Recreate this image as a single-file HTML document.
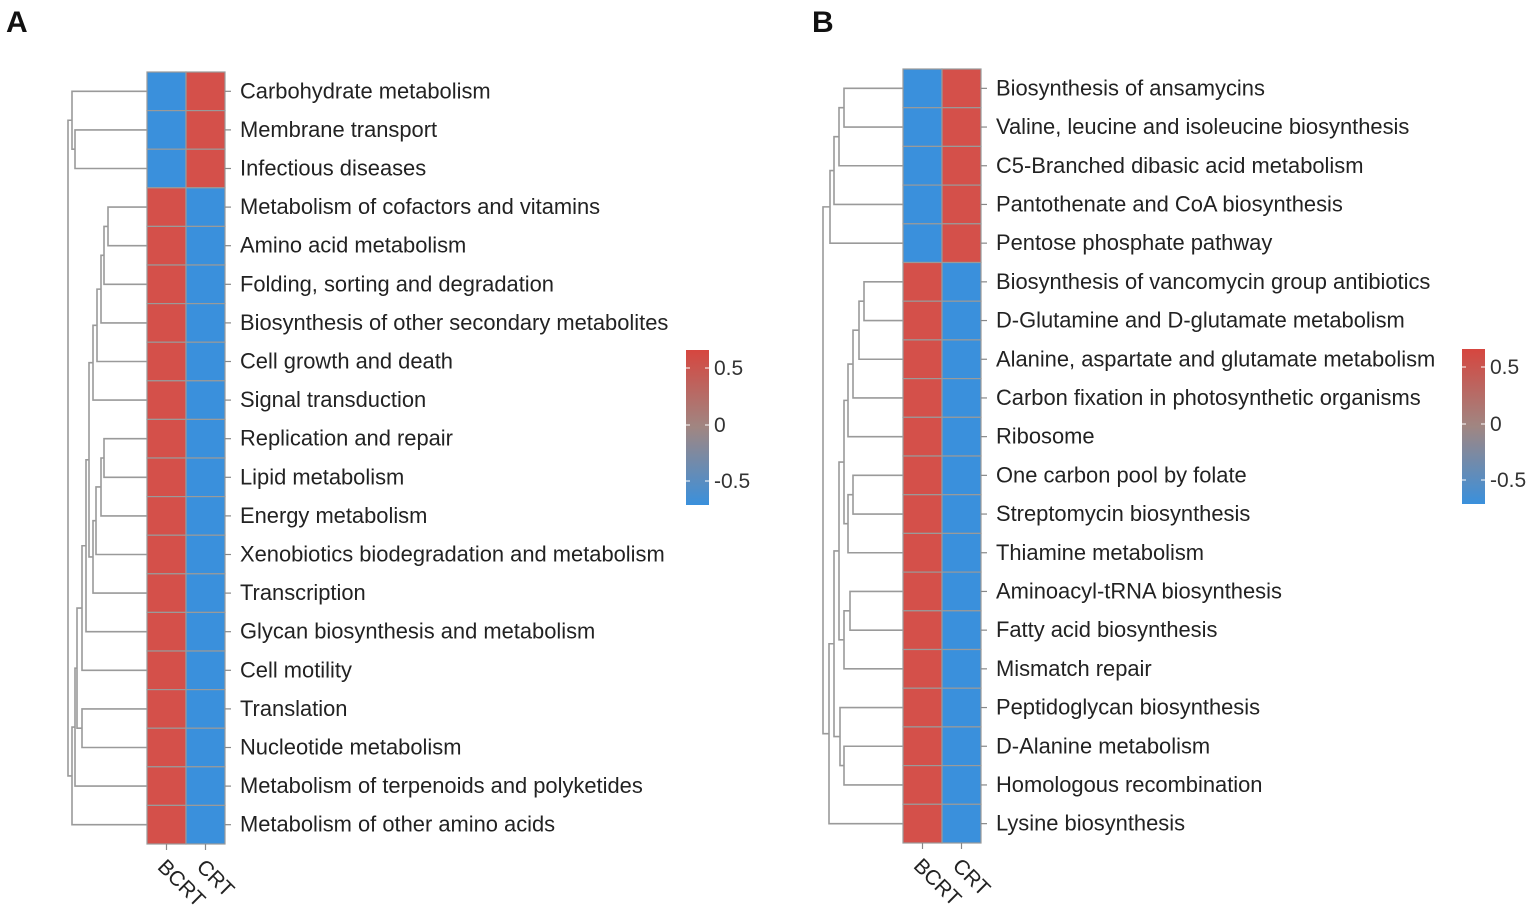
<!DOCTYPE html>
<html><head><meta charset="utf-8"><style>
html,body{margin:0;padding:0;background:#fff;}
svg{display:block;font-family:"Liberation Sans",Arial,sans-serif;}
</style></head><body>
<svg id="s" width="1535" height="922" xmlns="http://www.w3.org/2000/svg">
<defs><linearGradient id="g" x1="0" y1="0" x2="0" y2="1">
<stop offset="0" stop-color="#D6463F"/><stop offset="0.5" stop-color="#A08682"/><stop offset="1" stop-color="#3A90DC"/></linearGradient></defs>
<text x="6" y="32" font-size="30" font-weight="bold" fill="#111">A</text>
<text x="812" y="32" font-size="30" font-weight="bold" fill="#111">B</text>
</svg>
<script>
const S=document.getElementById('s');const NS='http://www.w3.org/2000/svg';
function el(t,a,txt){const e=document.createElementNS(NS,t);for(const k in a)e.setAttribute(k,a[k]);if(txt!==undefined)e.textContent=txt;S.appendChild(e);return e;}
function panel(o){
 const n=o.labels.length, rh=(o.bot-o.top)/n, cw=(o.x1-o.x0)/2;
 const yc=i=>o.top+rh*(i+0.5);
 for(let i=0;i<n;i++){
  const red=i>=o.split;
  el('rect',{x:o.x0,y:o.top+rh*i,width:cw,height:rh,fill:red?'#D4504A':'#3A90DC',stroke:'#9a9a9a','stroke-width':1.2});
  el('rect',{x:o.x0+cw,y:o.top+rh*i,width:cw,height:rh,fill:red?'#3A90DC':'#D4504A',stroke:'#9a9a9a','stroke-width':1.2});
  el('line',{x1:o.x1,x2:o.x1+6,y1:yc(i),y2:yc(i),stroke:'#888','stroke-width':1.2});
  el('text',{x:o.x1+15,y:yc(i)+7,'font-size':21.9,fill:'#222'},o.labels[i]);
 }
 [['BCRT',o.x0+cw/2],['CRT',o.x0+cw*1.5]].forEach(([t,x])=>{
  el('line',{x1:x,x2:x,y1:o.bot,y2:o.bot+6,stroke:'#888','stroke-width':1.2});
  el('text',{x:x-10,y:o.bot+24,'font-size':21,fill:'#222',transform:`rotate(45 ${x-10} ${o.bot+24})`},t);
 });
 const pos={};for(let i=0;i<n;i++)pos[i]={x:o.x0,y:yc(i)};
 let id=n;
 o.merges.forEach(([a,b,h])=>{
  const A=pos[a],B=pos[b];
  el('polyline',{points:`${A.x},${A.y} ${h},${A.y} ${h},${B.y} ${B.x},${B.y}`,fill:'none',stroke:'#9a9a9a','stroke-width':1.6});
  pos[id]={x:h,y:(A.y+B.y)/2};id++;
 });
 const L=o.leg;
 el('rect',{x:L.x,y:L.y,width:23,height:155,fill:'url(#g)'});
 [['0.5',18],['0',75],['-0.5',131]].forEach(([t,d])=>{
  el('line',{x1:L.x,x2:L.x+4,y1:L.y+d,y2:L.y+d,stroke:'#fff','stroke-width':1});
  el('line',{x1:L.x+19,x2:L.x+23,y1:L.y+d,y2:L.y+d,stroke:'#fff','stroke-width':1});
  el('text',{x:L.x+28,y:L.y+d+7,'font-size':21,fill:'#333'},t);
 });
}
panel({x0:147,x1:225,top:72,bot:844,split:3,leg:{x:686,y:350},
labels:["Carbohydrate metabolism","Membrane transport","Infectious diseases","Metabolism of cofactors and vitamins","Amino acid metabolism","Folding, sorting and degradation","Biosynthesis of other secondary metabolites","Cell growth and death","Signal transduction","Replication and repair","Lipid metabolism","Energy metabolism","Xenobiotics biodegradation and metabolism","Transcription","Glycan biosynthesis and metabolism","Cell motility","Translation","Nucleotide metabolism","Metabolism of terpenoids and polyketides","Metabolism of other amino acids"],
merges:[[1,2,75],[0,20,72],
[3,4,108],[22,5,104],[23,6,101],[24,7,97],[25,8,93],
[9,10,104],[27,11,101],[28,12,96],[29,13,93],
[26,30,89],[31,14,86],[32,15,82],
[16,17,82],[33,34,77],[35,18,75],[36,19,72],
[21,37,68]]});
panel({x0:903,x1:981,top:69,bot:843,split:5,leg:{x:1462,y:349},
labels:["Biosynthesis of ansamycins","Valine, leucine and isoleucine biosynthesis","C5-Branched dibasic acid metabolism","Pantothenate and CoA biosynthesis","Pentose phosphate pathway","Biosynthesis of vancomycin group antibiotics","D-Glutamine and D-glutamate metabolism","Alanine, aspartate and glutamate metabolism","Carbon fixation in photosynthetic organisms","Ribosome","One carbon pool by folate","Streptomycin biosynthesis","Thiamine metabolism","Aminoacyl-tRNA biosynthesis","Fatty acid biosynthesis","Mismatch repair","Peptidoglycan biosynthesis","D-Alanine metabolism","Homologous recombination","Lysine biosynthesis"],
merges:[[0,1,844],[20,2,839],[21,3,834],[22,4,830],
[5,6,864],[24,7,859],[25,8,853],[26,9,848],
[10,11,853],[28,12,848],[27,29,844],
[13,14,850],[31,15,844],[30,32,839],
[17,18,844],[16,34,840],[33,35,834],[36,19,829],
[23,37,823]]});
</script>
</body></html>
